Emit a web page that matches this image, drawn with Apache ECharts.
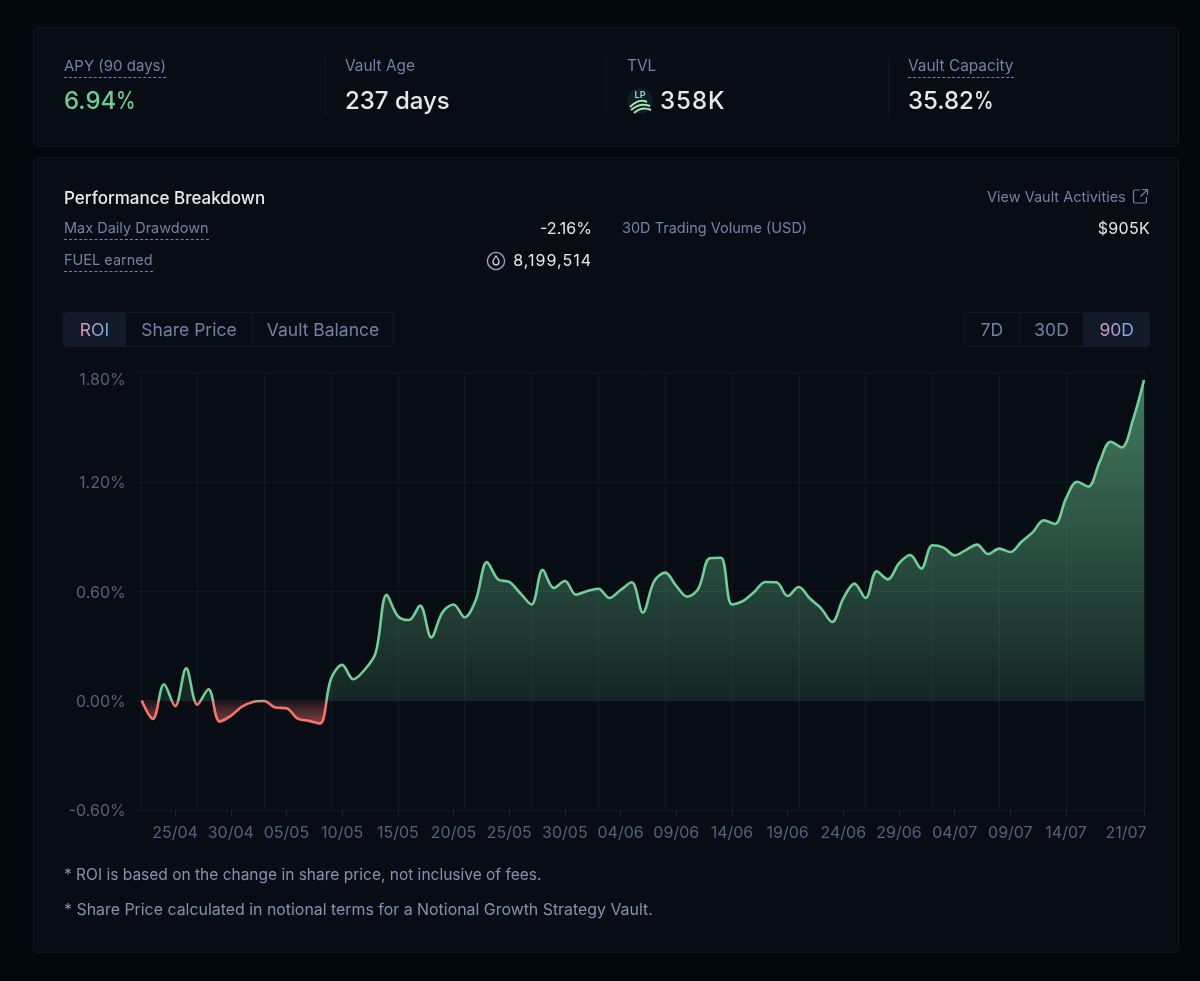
<!DOCTYPE html>
<html><head><meta charset="utf-8">
<script src="https://cdn.jsdelivr.net/npm/echarts@6/dist/echarts.min.js"></script>
<style>
html,body{margin:0;padding:0;width:1200px;height:981px;background:#03070e;overflow:hidden;font-family:Inter,"Noto Sans",sans-serif;}
#chart{position:absolute;left:0;top:0;width:1200px;height:981px;}
.card{position:absolute;left:33px;width:1146px;background:#080d15;border:1px solid #121821;border-radius:5px;box-sizing:border-box;}
.t{position:absolute;white-space:nowrap;line-height:20px;transform:translateY(-50%);}
.lab{color:#7082a6;font-size:15.4px;}
.sm{color:#7082a6;font-size:14.5px;}
.big{color:#e6e8ec;font-size:24px;font-weight:500;line-height:30px;}
.pc{display:inline-block;width:19px;transform:scaleX(.82);transform-origin:left center;}
.val{color:#e6e8ec;font-size:16px;letter-spacing:.3px;}
.dash{border-bottom:1px dashed #7082a6;padding-bottom:1px;}
.div{position:absolute;top:57px;width:1px;height:60px;background:#10161f;}
.tabs{position:absolute;top:312px;height:35px;border:1px solid #131a24;border-radius:3px;box-sizing:border-box;display:flex;}
.tab{color:#7082a6;font-size:17.5px;display:flex;align-items:center;justify-content:center;border-right:1px solid #131a24;box-sizing:border-box;}
.tab:last-child{border-right:none;}
.on{background:#121a29;}
.on span{background:linear-gradient(90deg,#e79bb3,#9aa0e6 60%,#7fb0ea);-webkit-background-clip:text;background-clip:text;color:transparent;}
.note{color:#8492ae;}
</style></head><body>
<div class="card" style="top:27px;height:120px"></div>
<div class="card" style="top:157px;height:796px"></div>
<div id="chart"></div>

<div class="t lab dash" style="left:64px;top:67px;font-size:15px">APY (90 days)</div>
<div class="t big" style="left:64px;top:101px;color:#6bcf94">6.94<span class="pc">%</span></div>
<div class="div" style="left:325px"></div>
<div class="t lab" style="left:345px;top:66px">Vault Age</div>
<div class="t big" style="left:345px;top:101px">237 days</div>
<div class="div" style="left:606px"></div>
<div class="t lab" style="left:627px;top:66px">TVL</div>
<svg style="position:absolute;left:627px;top:87px" width="26" height="29" viewBox="0 0 26 29">
<circle cx="13" cy="14" r="13" fill="#131c28"/>
<text x="13" y="11" font-size="9" font-family="Inter" font-weight="600" fill="#8fe3c0" text-anchor="middle">LP</text>
<g fill="none" stroke="#a6e6b0" stroke-width="2"><path d="M3 20 Q12 11 20 15"/><path d="M4 23 Q13 15 23 19"/><path d="M7 26 Q15 19 24 23"/></g>
</svg>
<div class="t big" style="left:660px;top:101px;letter-spacing:1px">358K</div>
<div class="div" style="left:888px"></div>
<div class="t lab dash" style="left:908px;top:67px">Vault Capacity</div>
<div class="t big" style="left:908px;top:101px">35.82<span class="pc">%</span></div>

<div class="t" style="left:64px;top:198px;color:#e8eaee;font-size:17px;font-weight:500">Performance Breakdown</div>
<div class="t sm" style="left:987px;top:197px">View Vault Activities</div>
<svg style="position:absolute;left:1132px;top:188px" width="17" height="17" viewBox="0 0 17 17" fill="none" stroke="#7082a6" stroke-width="1.2">
<path d="M8 2H3a1.5 1.5 0 0 0-1.5 1.5v10A1.5 1.5 0 0 0 3 15h10a1.5 1.5 0 0 0 1.5-1.5V9"/><path d="M10 1.5h5.5V7M15.5 1.5 8.5 8.5"/></svg>
<div class="t sm dash" style="left:64px;top:229px">Max Daily Drawdown</div>
<div class="t val" style="right:608px;top:228px;letter-spacing:0">-2.16%</div>
<div class="t sm" style="left:622px;top:228px">30D Trading Volume (USD)</div>
<div class="t val" style="right:50px;top:228px">$905K</div>
<div class="t sm dash" style="left:64px;top:261px">FUEL earned</div>
<svg style="position:absolute;left:486px;top:251px" width="20" height="20" viewBox="0 0 20 20" fill="none">
<defs><linearGradient id="g" x1="0" y1="0" x2="1" y2="1"><stop offset="0" stop-color="#e79bb3"/><stop offset="1" stop-color="#7f9fea"/></linearGradient></defs>
<circle cx="10" cy="10" r="8.6" stroke="url(#g)" stroke-width="1.3"/>
<path d="M10 5c1.8 2.4 3 4 3 5.800a3 3 0 0 1-6 0C7 9 8.200 7.400 10 5z" stroke="#d6d9e6" stroke-width="1.200"/></svg>
<div class="t val" style="right:608px;top:260px;letter-spacing:1px">8,199,514</div>

<div class="tabs" style="left:63px;width:331px">
<div class="tab on" style="width:62px"><span>ROI</span></div>
<div class="tab" style="width:127px">Share Price</div>
<div class="tab" style="width:140px">Vault Balance</div>
</div>
<div class="tabs" style="left:964px;width:186px">
<div class="tab" style="width:55px">7D</div>
<div class="tab" style="width:65px">30D</div>
<div class="tab on" style="width:65px"><span>90D</span></div>
</div>
<div class="t note" style="left:64px;top:875px;font-size:15.5px">* ROI is based on the change in share price, not inclusive of fees.</div>
<div class="t note" style="left:64px;top:910px;font-size:15.9px">* Share Price calculated in notional terms for a Notional Growth Strategy Vault.</div>

<script>
var dates = ["22/04","23/04","24/04","25/04","26/04","27/04","28/04","29/04","30/04",
"01/05","02/05","03/05","04/05","05/05","06/05","07/05","08/05","09/05","10/05","11/05","12/05","13/05","14/05","15/05","16/05","17/05","18/05","19/05","20/05","21/05","22/05","23/05","24/05","25/05","26/05","27/05","28/05","29/05","30/05","31/05",
"01/06","02/06","03/06","04/06","05/06","06/06","07/06","08/06","09/06","10/06","11/06","12/06","13/06","14/06","15/06","16/06","17/06","18/06","19/06","20/06","21/06","22/06","23/06","24/06","25/06","26/06","27/06","28/06","29/06","30/06",
"01/07","02/07","03/07","04/07","05/07","06/07","07/07","08/07","09/07","10/07","11/07","12/07","13/07","14/07","15/07","16/07","17/07","18/07","19/07","20/07","21/07"];
var roi = [0,-0.10,0.09,-0.03,0.177,-0.022,0.062,-0.115,-0.084,
-0.033,-0.007,-0.002,-0.038,-0.042,-0.099,-0.111,-0.126,0.12,0.196,0.117,0.168,0.26,0.58,0.464,0.442,0.521,0.347,0.484,0.527,0.457,0.552,0.76,0.665,0.651,0.589,0.527,0.717,0.618,0.656,0.581,
0.601,0.614,0.563,0.607,0.649,0.483,0.653,0.702,0.629,0.57,0.616,0.781,0.784,0.527,0.547,0.596,0.651,0.649,0.574,0.623,0.56,0.506,0.431,0.561,0.642,0.563,0.709,0.665,0.753,0.799,
0.724,0.852,0.839,0.797,0.826,0.856,0.804,0.834,0.815,0.872,0.923,0.989,0.969,1.11,1.201,1.174,1.307,1.42,1.389,1.539,1.759];
var labelledDates = ["25/04","30/04","05/05","10/05","15/05","20/05","25/05","30/05","04/06","09/06","14/06","19/06","24/06","29/06","04/07","09/07","14/07","21/07"];
var gridDates = ["22/04","27/04","03/05","09/05","15/05","21/05","27/05","02/06","08/06","14/06","20/06","26/06","02/07","08/07","14/07","21/07"];
var yTicks = [-0.6,0,0.6,1.2,1.8];

var gridCol = '#121821', axisCol = '#566079';
var green='111,207,151', red='249,115,107';
var yMax = yTicks[yTicks.length-1];
var chart = echarts.init(document.getElementById('chart'), null, {renderer:'canvas'});
chart.setOption({
  backgroundColor:'transparent', animation:false,
  grid:{left:141.7,right:56,top:372.5,bottom:171},
  xAxis:{type:'category',data:dates,boundaryGap:false,
    axisLine:{onZero:false,lineStyle:{color:gridCol}},
    axisTick:{show:true,length:6,lineStyle:{color:'#1b2230'},interval:function(i,v){return labelledDates.indexOf(v)>=0;}},
    splitLine:{show:true,lineStyle:{color:gridCol},interval:function(i,v){return gridDates.indexOf(v)>=0;}},
    axisLabel:{color:axisCol,fontSize:16,fontFamily:'Inter',margin:15,
      interval:function(i,v){return labelledDates.indexOf(v)>=0;},
      formatter:function(v){return v==='21/07'?'{last|'+v+'}':v;},
      rich:{last:{color:axisCol,fontSize:16,fontFamily:'Inter',padding:[0,36,0,0]}}}
  },
  yAxis:{type:'value',min:yTicks[0],max:yMax,interval:0.6,
    axisLine:{show:false},
    axisTick:{show:true,length:5,lineStyle:{color:gridCol}},
    splitLine:{show:true,lineStyle:{color:gridCol}},
    axisLabel:{color:axisCol,fontSize:16,fontFamily:'Inter',margin:16,verticalAlignMaxLabel:'top',
      formatter:function(v){var s=v.toFixed(2)+'%';return v===yMax?s:'{n|'+s+'}';},
      rich:{n:{color:axisCol,fontSize:16,fontFamily:'Inter',padding:[3,0,0,0]}}}
  },
  series:[{type:'line',data:roi,smooth:0.35,symbol:'none',z:3}]
});
var yOf=function(v){return chart.convertToPixel({yAxisIndex:0},v);};
var top_=yOf(yMax), bot=yOf(Math.min.apply(null,roi)-0.01), z=(yOf(0)-top_)/(bot-top_);
function grad(stops){return {type:'linear',global:true,x:0,y:top_,x2:0,y2:bot,colorStops:stops};}
chart.setOption({series:[{
  lineStyle:{width:2.6,color:grad([{offset:0,color:'rgb('+green+')'},{offset:z,color:'rgb('+green+')'},{offset:z,color:'rgb('+red+')'},{offset:1,color:'rgb('+red+')'}])},
  areaStyle:{opacity:1,origin:0,color:grad([{offset:0,color:'rgba('+green+',0.58)'},{offset:z,color:'rgba('+green+',0.13)'},{offset:z,color:'rgba('+red+',0.08)'},{offset:1,color:'rgba('+red+',0.55)'}])}
}]});
</script>
</body></html>
